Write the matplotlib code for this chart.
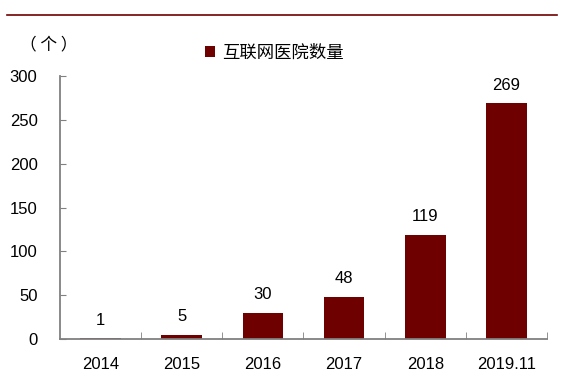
import matplotlib.pyplot as plt
from matplotlib.lines import Line2D

plt.rcParams['font.family'] = ['Liberation Sans', 'Noto Sans CJK SC', 'DejaVu Sans']

# data
years = ['2014', '2015', '2016', '2017', '2018', '2019.11']
hospitals = [1, 5, 30, 48, 119, 269]
bar_color = '#6e0000'

fig = plt.figure(figsize=(5.64, 3.89), dpi=100)
ax = fig.add_axes([0.106, 0.1285, 0.864, 0.676])

x = range(len(years))
ax.bar(x, hospitals, width=0.5, color=bar_color, label='互联网医院数量')
for xi, v in zip(x, hospitals):
    ax.text(xi, v + 12, str(v), ha='center', va='bottom', fontsize=12)

ax.set_xlim(-0.5, len(years) - 0.5)
ax.set_ylim(0, 300)
ax.set_yticks(range(0, 301, 50))
ax.set_xticks(x)
ax.set_xticklabels(years, fontsize=12)
ax.tick_params(axis='y', labelsize=12, direction='in', length=4, color='#808080', pad=16)
ax.tick_params(axis='x', length=0, pad=13)
# category separators on the bottom axis
ax.set_xticks([i - 0.5 for i in range(1, len(years) + 1)], minor=True)
ax.tick_params(axis='x', which='minor', direction='in', length=5, color='#808080')

for s in ['top', 'right']:
    ax.spines[s].set_visible(False)
for s in ['left', 'bottom']:
    ax.spines[s].set_color('#808080')
    ax.spines[s].set_linewidth(1.3)

ax.legend(loc='center', bbox_to_anchor=(0.44, 1.09), frameon=False,
          handlelength=0.6, handleheight=0.6, handletextpad=0.4,
          prop={'family': ['Noto Sans CJK SC'], 'size': 12.5})

fig.text(0.035, 0.885, '（ 个 ）', fontsize=12, family=['Noto Sans CJK SC'], va='center')

fig.add_artist(Line2D([0.012, 0.988], [0.961, 0.961], color='#6e0000', lw=1.2))

fig.savefig('out.png', dpi=100)
